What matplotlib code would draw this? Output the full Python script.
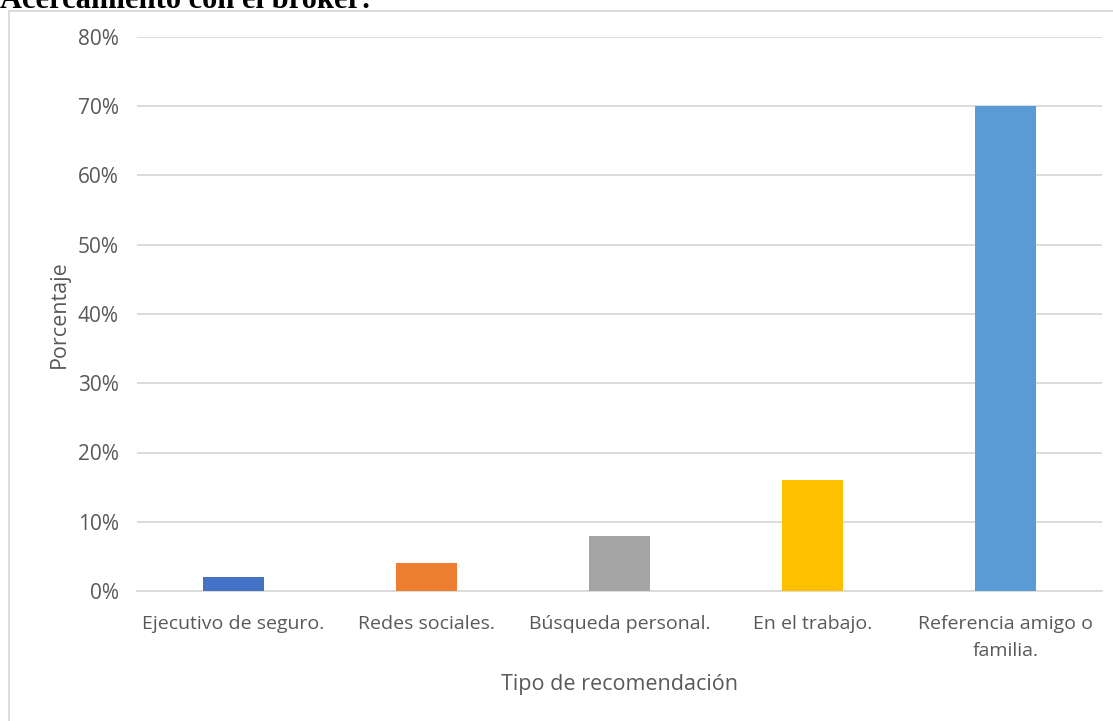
import matplotlib.pyplot as plt
from matplotlib.patches import Rectangle
from matplotlib.ticker import PercentFormatter

categorias = ["Ejecutivo de seguro.", "Redes sociales.", "Búsqueda personal.",
              "En el trabajo.", "Referencia amigo o\nfamilia."]
porcentajes = [2, 4, 8, 16, 70]
colores = ["#4472C4", "#ED7D31", "#A5A5A5", "#FFC000", "#5B9BD5"]
ticks_y = [0, 10, 20, 30, 40, 50, 60, 70, 80]

plt.rcParams["font.family"] = ["Open Sans", "DejaVu Sans"]
gris = "#595959"

fig = plt.figure(figsize=(11.13, 7.21), dpi=100)
W, H = 1113, 721

# marco del grafico
fig.patches.append(Rectangle((8.5 / W, -0.1), 1.2, 1 - 10.5 / H + 0.1,
                             transform=fig.transFigure, fill=False,
                             edgecolor="#D9D9D9", linewidth=1.3))

# titulo cortado arriba
fig.text(0, 1 - 8 / H, "Acercamiento con el broker:", family="Liberation Serif",
         weight="bold", fontsize=22, va="baseline", ha="left", color="black")

ax = fig.add_axes([137 / W, 1 - 591 / H, (1102 - 137) / W, (591 - 37) / H])
x = range(len(categorias))
ax.bar(x, porcentajes, width=0.316, color=colores, zorder=3)

ax.set_xlim(-0.5, len(categorias) - 0.5)
ax.set_ylim(0, 80)
ax.set_yticks(ticks_y)
ax.yaxis.set_major_formatter(PercentFormatter(decimals=0))
ax.set_xticks(list(x))
ax.set_xticklabels(categorias, linespacing=1.7)
ax.grid(axis="y", color="#D9D9D9", linewidth=1.3, zorder=0)
for s in ["top", "right", "left"]:
    ax.spines[s].set_visible(False)
ax.spines["bottom"].set_color("#D9D9D9")
ax.spines["bottom"].set_linewidth(1.3)
ax.tick_params(axis="both", length=0, colors=gris)
ax.tick_params(axis="y", pad=13, labelsize=15)
ax.tick_params(axis="x", pad=17, labelsize=14)
ax.set_ylabel("Porcentaje", fontsize=15.5, color=gris, labelpad=6)
ax.set_xlabel("Tipo de recomendación", fontsize=15.5, color=gris, labelpad=10)

fig.savefig("out.png", dpi=100)
